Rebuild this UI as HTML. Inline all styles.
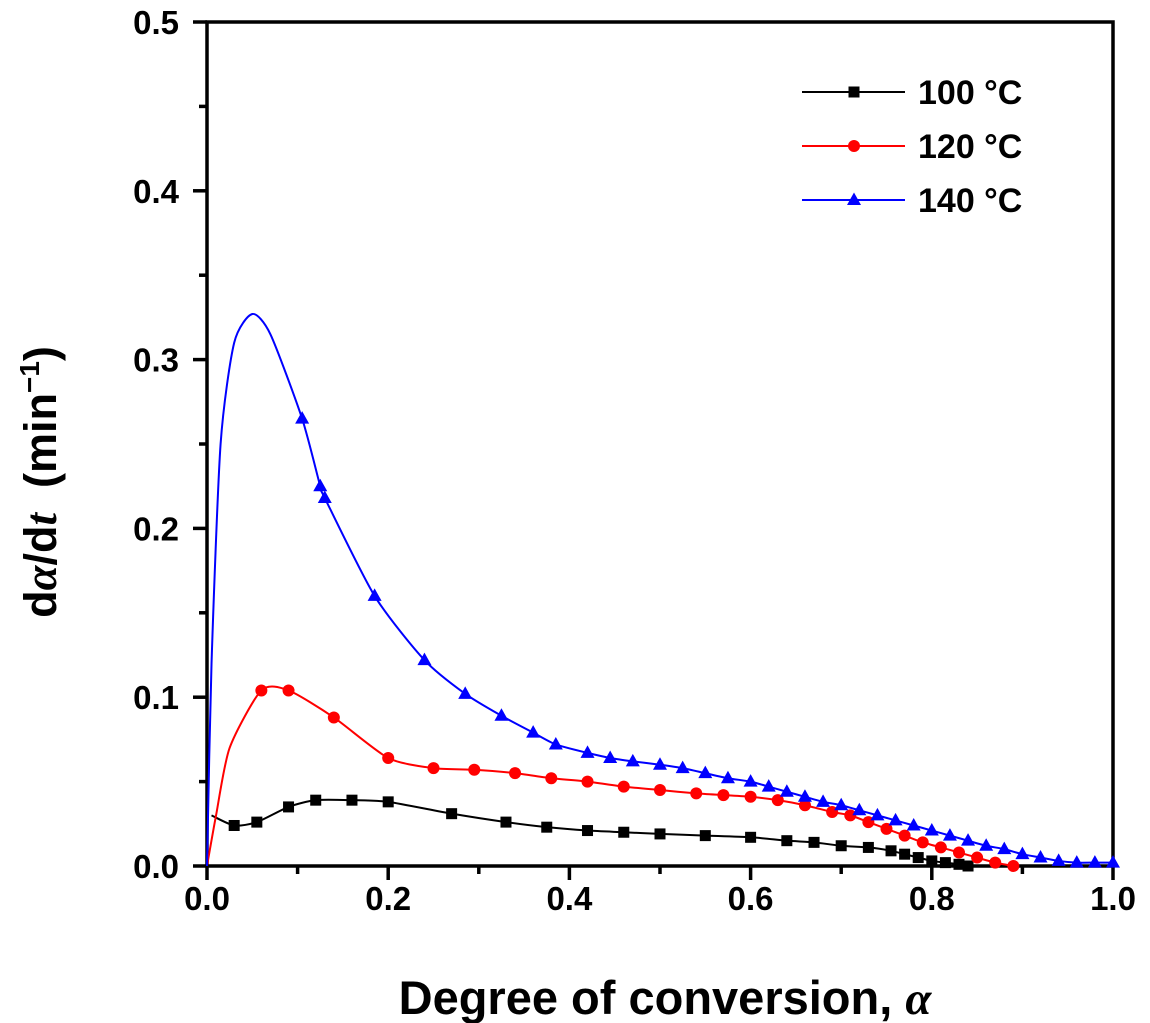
<!DOCTYPE html>
<html><head><meta charset="utf-8"><style>
html,body{margin:0;padding:0;background:#fff;}
svg{display:block;font-family:"Liberation Sans",Arial,sans-serif;font-weight:bold;}
</style></head><body>
<svg id="chart" width="1150" height="1023" viewBox="0 0 1150 1023" xmlns="http://www.w3.org/2000/svg">
<g id="axes"></g>
<g id="series"></g>
<g id="legend"></g>
<text x="665" y="1014" font-size="47" text-anchor="middle">Degree of conversion, <tspan font-family="Liberation Serif" font-style="italic">α</tspan></text>
<text transform="translate(56,482) rotate(-90)" font-size="45" text-anchor="middle" style="white-space:pre">d<tspan font-family="Liberation Serif" font-style="italic">α</tspan>/d<tspan font-family="Liberation Serif" font-style="italic">t</tspan>  (min<tspan font-size="28" dy="-17">−1</tspan><tspan dy="17">)</tspan></text>
</svg>
<script>
const xTicks=[0,0.2,0.4,0.6,0.8,1.0];
const yTicks=[0,0.1,0.2,0.3,0.4,0.5];
const seriesNames=["100 °C","120 °C","140 °C"];
const seriesColors=["#000","#f00","#00f"];
const x100=[0.005,0.03,0.055,0.09,0.12,0.16,0.2,0.27,0.33,0.375,0.42,0.46,0.5,0.55,0.6,0.64,0.67,0.7,0.73,0.755,0.77,0.785,0.8,0.815,0.83,0.84];
const y100=[0.03,0.024,0.026,0.035,0.039,0.039,0.038,0.031,0.026,0.023,0.021,0.02,0.019,0.018,0.017,0.015,0.014,0.012,0.011,0.009,0.007,0.005,0.003,0.002,0.001,0];
const x120=[0,0.01,0.025,0.06,0.09,0.14,0.2,0.25,0.295,0.34,0.38,0.42,0.46,0.5,0.54,0.57,0.6,0.63,0.66,0.69,0.71,0.73,0.75,0.77,0.79,0.81,0.83,0.85,0.87,0.89];
const y120=[0,0.03,0.07,0.104,0.104,0.088,0.064,0.058,0.057,0.055,0.052,0.05,0.047,0.045,0.043,0.042,0.041,0.039,0.036,0.032,0.03,0.026,0.022,0.018,0.014,0.011,0.008,0.005,0.002,0];
const x140=[0,0.005,0.015,0.03,0.05,0.07,0.105,0.125,0.13,0.185,0.24,0.285,0.325,0.36,0.385,0.42,0.445,0.47,0.5,0.525,0.55,0.575,0.6,0.62,0.64,0.66,0.68,0.7,0.72,0.74,0.76,0.78,0.8,0.82,0.84,0.86,0.88,0.9,0.92,0.94,0.96,0.98,1.0];
const y140=[0,0.12,0.25,0.31,0.327,0.315,0.265,0.225,0.218,0.16,0.122,0.102,0.089,0.079,0.072,0.067,0.064,0.062,0.06,0.058,0.055,0.052,0.05,0.047,0.044,0.041,0.038,0.036,0.033,0.03,0.027,0.024,0.021,0.018,0.015,0.012,0.01,0.007,0.005,0.003,0.002,0.002,0.002];
const X0=207,X1=1113,Y0=866,Y1=22;
function sx(v){return X0+(X1-X0)*v;}
function sy(v){return Y0-(Y0-Y1)*v/0.5;}
const NS="http://www.w3.org/2000/svg";
function mk(tag,attrs,parent){const e=document.createElementNS(NS,tag);for(const k in attrs)e.setAttribute(k,attrs[k]);parent.appendChild(e);return e;}
const axes=document.getElementById('axes');
const frame=mk('rect',{x:X0,y:Y1,width:X1-X0,height:Y0-Y1,fill:'none',stroke:'#000','stroke-width':3.5},axes);


xTicks.forEach((t,i)=>{
 const l=mk('line',{x1:sx(t),x2:sx(t),y1:Y0,y2:Y0+14,stroke:'#000','stroke-width':3.5},axes);
 
 
 if(i<xTicks.length-1){const m=mk('line',{x1:sx(t+0.1),x2:sx(t+0.1),y1:Y0,y2:Y0+8,stroke:'#000','stroke-width':3.5},axes);
 
 }
 const tx=mk('text',{x:sx(t),y:Y0+44,'font-size':33,'text-anchor':'middle'},axes);tx.textContent=t.toFixed(1);
 
 
});
yTicks.forEach((t,i)=>{
 const l=mk('line',{x1:X0-14,x2:X0,y1:sy(t),y2:sy(t),stroke:'#000','stroke-width':3.5},axes);
 
 
 if(i<yTicks.length-1){const m=mk('line',{x1:X0-8,x2:X0,y1:sy(t+0.05),y2:sy(t+0.05),stroke:'#000','stroke-width':3.5},axes);
 
 }
 const tx=mk('text',{x:X0-28,y:sy(t)+12,'font-size':33,'text-anchor':'end'},axes);tx.textContent=t.toFixed(1);
 
 
});
function marker(kind,cx,cy,color,parent){
 let e;
 if(kind===0)e=mk('rect',{x:cx-5.5,y:cy-5.5,width:11,height:11,fill:color},parent);
 else if(kind===1)e=mk('circle',{cx:cx,cy:cy,r:6,fill:color},parent);
 else e=mk('polygon',{points:`${cx},${cy-7.5} ${cx+7},${cy+5} ${cx-7},${cy+5}`,fill:color},parent);
 return e;
}
function smoothPath(P){
 let d=`M${P[0][0]},${P[0][1]}`;
 for(let i=0;i<P.length-1;i++){
  const p0=P[Math.max(0,i-1)],p1=P[i],p2=P[i+1],p3=P[Math.min(P.length-1,i+2)];
  const t=0.12;
  const c1=[p1[0]+(p2[0]-p0[0])*t,p1[1]+(p2[1]-p0[1])*t];
  const c2=[p2[0]-(p3[0]-p1[0])*t,p2[1]-(p3[1]-p1[1])*t];
  d+=` C${c1[0]},${c1[1]} ${c2[0]},${c2[1]} ${p2[0]},${p2[1]}`;
 }
 return d;
}
const ser=document.getElementById('series');
const allX=[x100,x120,x140],allY=[y100,y120,y140];
const startMarker=[1,3,6];
allX.forEach((xs,s)=>{
 const g=mk('g',{},ser);
 
 
 const P=xs.map((x,i)=>[sx(x),sy(allY[s][i])]);
 const pl=mk('path',{d:smoothPath(P),fill:'none',stroke:seriesColors[s],'stroke-width':2,'stroke-linejoin':'round'},g);
 
 
 xs.forEach((x,i)=>{if(i<startMarker[s])return;
  const m=marker(s,sx(x),sy(allY[s][i]),seriesColors[s],g);
  
  
 });
});
const leg=document.getElementById('legend');
seriesNames.forEach((n,i)=>{
 const y=92+54*i;
 const g=mk('g',{},leg);
 
 
 mk('line',{x1:802,x2:905,y1:y,y2:y,stroke:seriesColors[i],'stroke-width':2},g);
 marker(i,854,y,seriesColors[i],g);
 const t=mk('text',{x:918,y:y+12,'font-size':34},g);t.textContent=n;
 
 
});
</script>
</body></html>
